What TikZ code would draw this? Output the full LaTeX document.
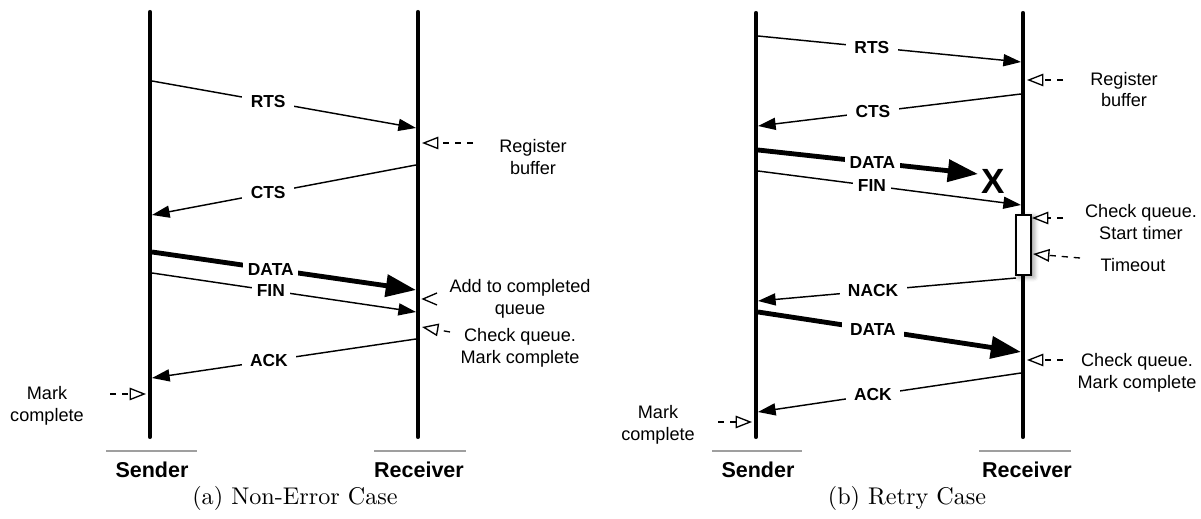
\documentclass[tikz,border=0pt]{standalone}
\usepackage{fontspec}
\newfontfamily\helv{Liberation Sans}
\usepackage{tikz}
\usetikzlibrary{arrows.meta}
\usetikzlibrary{shadows.blur}

\tikzset{
  lifeline/.style={line width=1.7pt, line cap=round},
  msg/.style={line width=0.6pt, -{Triangle[length=7.3pt,width=5pt]}},
  bigmsg/.style={line width=2pt, -{Triangle[length=12.5pt,width=9pt]}},
  notearrow/.style={line width=0.55pt, dash pattern=on 2.6pt off 2.4pt, -{Triangle[open,length=6.8pt,width=5.2pt]}},
  msglabel/.style={fill=white, inner sep=3.5pt, font=\helv\bfseries\fontsize{7.2}{8}\selectfont},
  note/.style={align=center, inner sep=0pt, font=\helv\fontsize{7.5}{9}\selectfont},
  actor/.style={inner sep=0pt, font=\helv\bfseries\fontsize{8.9}{10}\selectfont},
  actorline/.style={gray!75, line width=0.6pt},
  timerbox/.style={draw, fill=white, line width=0.5pt, inner sep=0pt,
    minimum width=6.2pt, minimum height=24.8pt,
    blur shadow={shadow xshift=1.2pt, shadow yshift=-0.8pt, shadow blur radius=2pt, shadow opacity=45}},
}

\begin{document}
\begin{tikzpicture}[x=0.414pt, y=-0.414pt]

\useasboundingbox (0,0) rectangle (1201,519);

%%%%% (a) Non-Error Case

% Sender and receiver lines
\draw[lifeline] (150,12) -- (150,437);
\draw[lifeline] (418,12) -- (418,437);

% Points on the lines
\coordinate (rtsA1) at (152,81);
\coordinate (rtsA2) at (416,128);
\coordinate (ctsA1) at (416,165);
\coordinate (ctsA2) at (152,215);
\coordinate (dataA1) at (152,252);
\coordinate (dataA2) at (416,290);
\coordinate (finA1) at (152,273);
\coordinate (finA2) at (416,312);
\coordinate (ackA1) at (416,339);
\coordinate (ackA2) at (152,378);

% Messages
\draw[msg] (rtsA1) -- node[msglabel, pos=0.44] (rtsAlab) {RTS} (rtsA2);
\draw[msg] (ctsA1) -- node[msglabel, pos=0.56] (ctsAlab) {CTS} (ctsA2);
\draw[bigmsg] (dataA1) -- node[msglabel, pos=0.45, inner sep=2pt] (dataAlab) {DATA} (dataA2);
\draw[msg] (finA1) -- node[msglabel, pos=0.45, inner sep=2pt] (finAlab) {FIN} (finA2);
\draw[msg] (ackA1) -- node[msglabel, pos=0.557] (ackAlab) {ACK} (ackA2);

% Notes
\node[note] (regA) at (533,157) {Register\\buffer};
\coordinate (regA1) at (473,143);
\coordinate (regA2) at (422,143);
\draw[notearrow] (regA1) -- (regA2);

\node[note] (addA) at (520,299) {Add to completed\\queue};
\draw[line width=0.55pt] (437,293) -- (423,299) -- (437,305);

\node[note] (chkA) at (520,348) {Check queue.\\Mark complete};
\coordinate (chkA1) at (450,332);
\coordinate (chkA2) at (422,327);
\draw[notearrow] (chkA1) -- (chkA2);

\node[note] (markA) at (47,406) {Mark\\complete};
\coordinate (markA1) at (110,394);
\coordinate (markA2) at (146,394);
\draw[notearrow] (markA1) -- (markA2);

% Sender / Receiver
\draw[actorline] (106,451) -- (197,451);
\node[actor] (sendA) at (152,470) {Sender};
\draw[actorline] (374,451) -- (466,451);
\node[actor] (recvA) at (419,470) {Receiver};

\node (capA) at (295,498) {(a) Non-Error Case};

%%%%% (b) Retry Case

% Sender and receiver lines
\draw[lifeline] (756,13) -- (756,437);
\draw[lifeline] (1023,13) -- (1023,437);

% Timer
\node[timerbox] (timer) at (1023.5,245) {};

% Points on the lines
\coordinate (rtsB1) at (758,36);
\coordinate (rtsB2) at (1021,62);
\coordinate (ctsB1) at (1021,94);
\coordinate (ctsB2) at (758,126);
\coordinate (dataB1) at (758,150);
\coordinate (dataB2) at (978,174);
\coordinate (finB1) at (758,171);
\coordinate (finB2) at (1021,205);
\coordinate (nackB1) at (1016,278);
\coordinate (nackB2) at (758,301);
\coordinate (dataC1) at (758,312);
\coordinate (dataC2) at (1021,352);
\coordinate (ackB1) at (1021,373);
\coordinate (ackB2) at (758,412);

% Messages
\draw[msg] (rtsB1) -- node[msglabel, pos=0.433] (rtsBlab) {RTS} (rtsB2);
\draw[msg] (ctsB1) -- node[msglabel, pos=0.563] (ctsBlab) {CTS} (ctsB2);
\draw[bigmsg] (dataB1) -- node[msglabel, pos=0.52, inner sep=2pt] (dataBlab) {DATA} (dataB2);
\node[font=\helv\bfseries\fontsize{14.5}{16}\selectfont, inner sep=0pt] (lost) at (993,181) {X};
\draw[msg] (finB1) -- node[msglabel, pos=0.433, inner sep=2pt] (finBlab) {FIN} (finB2);
\draw[msg] (nackB1) -- node[msglabel, pos=0.554] (nackBlab) {NACK} (nackB2);
\draw[bigmsg] (dataC1) -- node[msglabel, pos=0.437] (dataClab) {DATA} (dataC2);
\draw[msg] (ackB1) -- node[msglabel, pos=0.563] (ackBlab) {ACK} (ackB2);

% Notes
\node[note] (regB) at (1124,89.5) {Register\\buffer};
\coordinate (regB1) at (1063,80);
\coordinate (regB2) at (1027,80);
\draw[notearrow] (regB1) -- (regB2);

\node[note] (startB) at (1141,222) {Check queue.\\Start timer};
\coordinate (startB1) at (1063,218);
\coordinate (startB2) at (1032,218);
\draw[notearrow] (startB1) -- (startB2);

\node[note] (timeB) at (1133,265) {Timeout};
\coordinate (timeB1) at (1080,258);
\coordinate (timeB2) at (1033,254);
\draw[notearrow] (timeB1) -- (timeB2);

\node[note] (chkB) at (1137,372.5) {Check queue.\\Mark complete};
\coordinate (chkB1) at (1063,360);
\coordinate (chkB2) at (1027,360);
\draw[notearrow] (chkB1) -- (chkB2);

\node[note] (markB) at (658,425) {Mark\\complete};
\coordinate (markB1) at (718,422);
\coordinate (markB2) at (752,422);
\draw[notearrow] (markB1) -- (markB2);

% Sender / Receiver
\draw[actorline] (712,451) -- (802,451);
\node[actor] (sendB) at (758,470) {Sender};
\draw[actorline] (979,451) -- (1071,451);
\node[actor] (recvB) at (1027,470) {Receiver};

\node (capB) at (907,498) {(b) Retry Case};

\end{tikzpicture}
\end{document}
